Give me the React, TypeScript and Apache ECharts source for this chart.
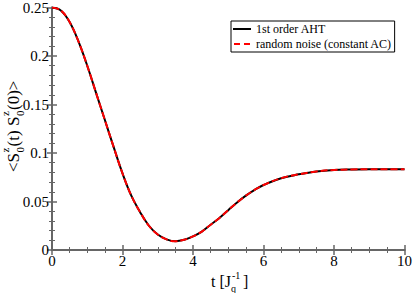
import React, { useEffect, useRef } from "react";
import * as echarts from "echarts";

const tValues = [0, 0.25, 0.5, 0.75, 1, 1.25, 1.5, 1.75, 2, 2.25, 2.5, 2.75, 3, 3.25, 3.5, 3.75, 4, 4.25, 4.5, 4.75, 5, 5.25, 5.5, 5.75, 6, 6.5, 7, 7.5, 8, 8.5, 9, 9.5, 10];
const ahtValues = [0.25, 0.247, 0.235, 0.215, 0.19, 0.162, 0.134, 0.106, 0.079, 0.056, 0.039, 0.025, 0.016, 0.011, 0.009, 0.0105, 0.014, 0.019, 0.026, 0.033, 0.041, 0.049, 0.056, 0.062, 0.067, 0.074, 0.078, 0.081, 0.0825, 0.083, 0.0833, 0.0833, 0.0833];
const noiseValues = [0.25, 0.247, 0.235, 0.215, 0.19, 0.162, 0.134, 0.106, 0.079, 0.056, 0.039, 0.025, 0.016, 0.011, 0.009, 0.0105, 0.014, 0.019, 0.026, 0.033, 0.041, 0.049, 0.056, 0.062, 0.067, 0.074, 0.078, 0.081, 0.0825, 0.083, 0.0833, 0.0833, 0.0833];
const seriesNames = ["1st order AHT", "random noise (constant AC)"];

const FONT = '"Liberation Serif", "Times New Roman", serif';

export default function App() {
  const ref = useRef<HTMLDivElement>(null);
  useEffect(() => {
    if (!ref.current) return;
    const chart = echarts.init(ref.current, null, { renderer: "svg" });
    const axisLine = { show: true, lineStyle: { color: "#666", width: 2 } };
    const tick = { inside: true, length: 5, lineStyle: { color: "#666", width: 1.5 } };
    const minor = (n: number) => ({ show: true, splitNumber: n, length: 3, lineStyle: { color: "#666", width: 1 } });
    const label = { color: "#000", fontFamily: FONT, fontSize: 15 };
    const fs = 17;
    const sm = 11;
    const txt = (text: string, x: number, y: number, size: number) => ({
      type: "text", x, y,
      style: { text, fontFamily: FONT, fontSize: size, fill: "#000", align: "left", verticalAlign: "middle" },
    });
    chart.setOption({
      animation: false,
      backgroundColor: "#fff",
      grid: { left: 52, right: 8, top: 5, bottom: 43 },
      legend: {
        left: 231,
        top: 21,
        orient: "vertical",
        align: "left",
        data: [
          { name: seriesNames[0], icon: "path://M0 0H18V2H0Z" },
          { name: seriesNames[1], icon: "path://M0 0H6V2H0Z M10 0H16V2H10Z" },
        ],
        borderColor: "#000",
        borderWidth: 1,
        borderRadius: 0,
        padding: [2, 3, 2, 2],
        itemGap: 3,
        itemWidth: 18,
        itemHeight: 2,
        textStyle: { color: "#000", fontFamily: FONT, fontSize: 12, lineHeight: 12 },
      },
      xAxis: [
        {
          type: "value", min: 0, max: 10, interval: 2, position: "bottom",
          axisLine, axisTick: tick, minorTick: minor(4), splitLine: { show: false },
          axisLabel: { ...label, margin: 3 },
        },
        {
          type: "value", min: 0, max: 10, interval: 2, position: "top",
          axisLine, axisTick: tick, minorTick: minor(4), splitLine: { show: false },
          axisLabel: { show: false },
        },
      ],
      yAxis: [
        {
          type: "value", min: 0, max: 0.25, interval: 0.05, position: "left",
          axisLine, axisTick: tick, minorTick: minor(5), splitLine: { show: false },
          axisLabel: { ...label, margin: 3 },
        },
        {
          type: "value", min: 0, max: 0.25, interval: 0.05, position: "right",
          axisLine, axisTick: tick, minorTick: minor(5), splitLine: { show: false },
          axisLabel: { show: false },
        },
      ],
      series: [
        {
          name: seriesNames[0], type: "line", xAxisIndex: 0, yAxisIndex: 0,
          data: tValues.map((t, i) => [t, ahtValues[i]]),
          showSymbol: false, symbol: "none", smooth: 0.4, z: 2,
          lineStyle: { color: "#000", width: 2, type: "solid" },
          itemStyle: { color: "#000" },
        },
        {
          name: seriesNames[1], type: "line", xAxisIndex: 0, yAxisIndex: 0,
          data: tValues.map((t, i) => [t, noiseValues[i]]),
          showSymbol: false, symbol: "none", smooth: 0.4, z: 3,
          lineStyle: { color: "#ff0000", width: 2, type: [7, 3] },
          itemStyle: { color: "#ff0000" },
        },
      ],
      graphic: [
        {
          type: "group", x: 13, y: 172, rotation: Math.PI / 2,
          children: [
            txt("<", 0, 0, fs),
            txt("S", 9.6, 0, fs),
            txt("z", 19.5, -8, sm),
            txt("0", 19.5, 7, sm),
            txt("(t)", 25.5, 0, fs),
            txt("S", 46, 0, fs),
            txt("z", 55.9, -8, sm),
            txt("0", 55.9, 7, sm),
            txt("(0)>", 62, 0, fs),
          ],
        },
        {
          type: "group", x: 211, y: 281,
          children: [
            txt("t [J", 0, 0, 16),
            txt("-1", 21, -6, 10),
            txt("q", 20, 7, 10),
            txt("]", 32, 0, 16),
          ],
        },
      ],
    });
    return () => chart.dispose();
  }, []);
  return <div ref={ref} style={{ width: 415, height: 293, position: "absolute", left: 0, top: 0 }} />;
}
